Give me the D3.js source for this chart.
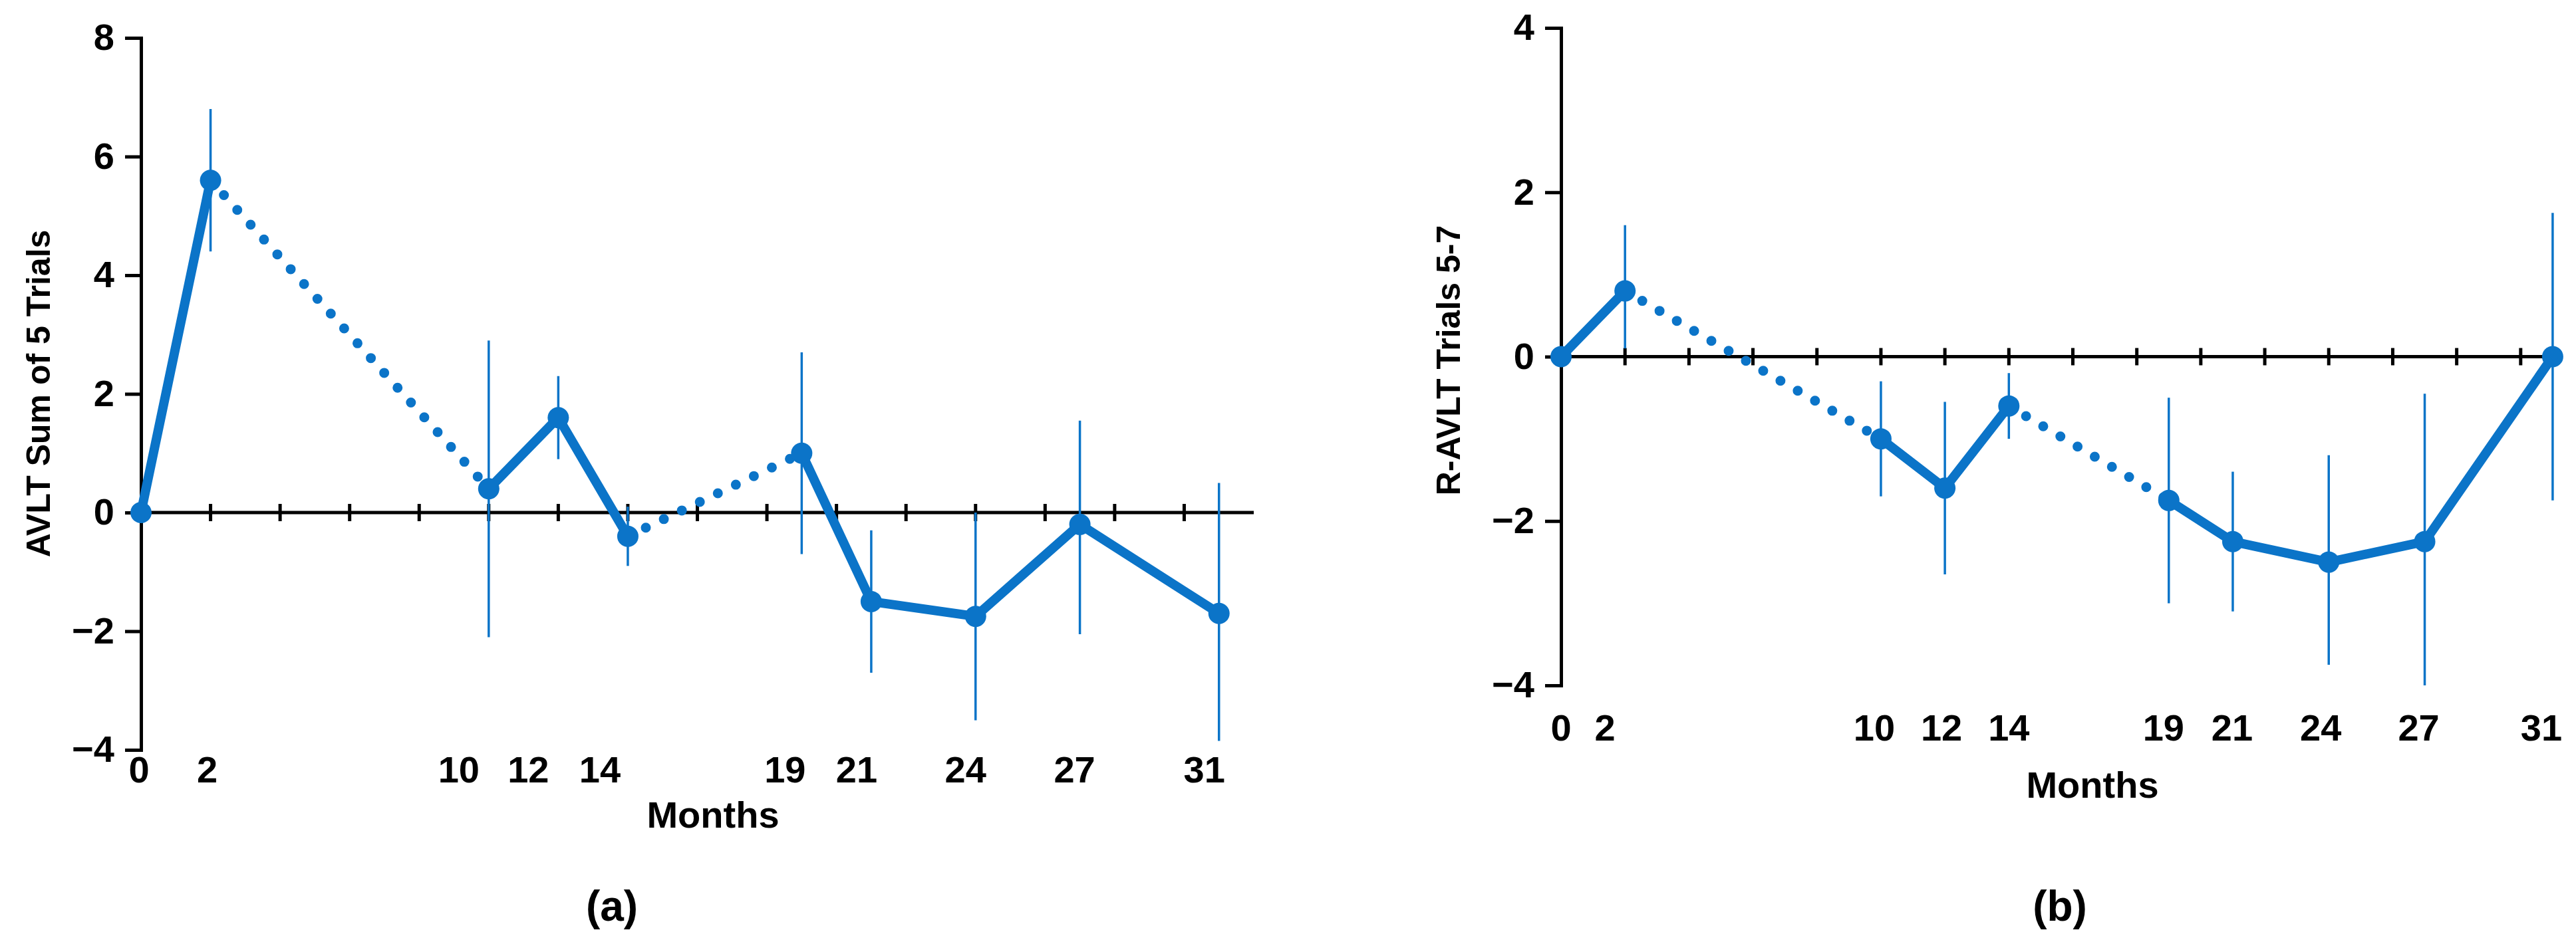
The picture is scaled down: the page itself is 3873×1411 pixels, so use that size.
<!DOCTYPE html>
<html>
<head>
<meta charset="utf-8">
<script src="https://cdn.jsdelivr.net/npm/d3@7"></script>
<style>
body{margin:0;background:#fff;}
text{font-family:"Liberation Sans Narrow","Liberation Sans",sans-serif;font-weight:bold;fill:#000;}
</style>
</head>
<body>
<div id="chart"></div>
<script>
// data
var months=[0,2,10,12,14,19,21,24,27,31];
var avltMean=[0,5.6,0.4,1.6,-0.4,1.0,-1.5,-1.75,-0.2,-1.7];
var avltLow=[null,4.4,-2.1,0.9,-0.9,-0.7,-2.7,-3.5,-2.05,-3.85];
var avltHigh=[null,6.8,2.9,2.3,0.1,2.7,-0.3,0,1.55,0.5];
var ravltMean=[0,0.8,-1.0,-1.6,-0.6,-1.75,-2.25,-2.5,-2.25,0];
var ravltLow=[null,0.1,-1.7,-2.65,-1.0,-3.0,-3.1,-3.75,-4.0,-1.75];
var ravltHigh=[null,1.6,-0.3,-0.55,-0.2,-0.5,-1.4,-1.2,-0.45,1.75];
var dottedFrom=[2,14];   // dotted segments start at these months
var avltTicks=[-4,-2,0,2,4,6,8];
var ravltTicks=[-4,-2,0,2,4];

var color="#0b74c8";
var svg=d3.select("#chart").append("svg").attr("width",3873).attr("height",1411);

function drawPanel(cfg){
    var x=d3.scaleLinear().domain([0,32]).range([cfg.x0,cfg.x1]);
    var y=d3.scaleLinear().domain(cfg.yDomain).range([cfg.yBottom,cfg.yTop]);
    var g=svg.append("g");

    // y axis
    var leftAxis=d3.axisLeft(y).tickValues(cfg.yTicks).tickSize(24).tickPadding(16).tickFormat(d3.format("d"));
    var ya=g.append("g").attr("transform",`translate(${x(0)},0)`).call(leftAxis);
    ya.select(".domain").attr("stroke","#000").attr("stroke-width",5);
    ya.selectAll(".tick line").attr("stroke","#000").attr("stroke-width",5);
    ya.selectAll(".tick text").attr("font-size",56).attr("font-family",null);

    // zero line with crossing ticks
    var xTickVals=d3.range(2,cfg.xEnd,2);
    g.append("line").attr("x1",x(0)).attr("x2",x(cfg.xEnd)).attr("y1",y(0)).attr("y2",y(0))
        .attr("stroke","#000").attr("stroke-width",5);
    g.selectAll(".zt").data(xTickVals).enter().append("line")
        .attr("x1",d=>x(d)).attr("x2",d=>x(d)).attr("y1",y(0)-13).attr("y2",y(0)+13)
        .attr("stroke","#000").attr("stroke-width",5);

    // month labels
    g.selectAll(".ml").data(months).enter().append("text")
        .attr("x",(d,i)=>x(d)+cfg.labelShift[i]).attr("y",cfg.labelY)
        .attr("text-anchor","middle").attr("font-size",56).text(d=>d);
    g.append("text").attr("x",cfg.monthsX).attr("y",cfg.monthsY).attr("text-anchor","middle")
        .attr("font-size",56).text("Months");
    g.append("text").attr("transform",`translate(${cfg.titleX},${cfg.titleY}) rotate(-90)`)
        .attr("text-anchor","middle").attr("font-size",50)
        .attr("font-family","'Liberation Sans',sans-serif").text(cfg.title);
    var cap=g.append("text").attr("x",cfg.capX).attr("y",1385).attr("text-anchor","middle")
        .attr("font-size",64).attr("font-weight","normal").attr("font-family","'Liberation Serif',serif");
    cap.append("tspan").text("(");
    cap.append("tspan").attr("font-weight","bold").text(cfg.cap);
    cap.append("tspan").text(")");

    // error bars
    g.selectAll(".eb").data(months.map((m,i)=>({m:m,lo:cfg.low[i],hi:cfg.high[i]})).filter(d=>d.lo!==null))
        .enter().append("line")
        .attr("x1",d=>x(d.m)).attr("x2",d=>x(d.m)).attr("y1",d=>y(d.lo)).attr("y2",d=>y(d.hi))
        .attr("stroke",color).attr("stroke-width",3.5);

    // line segments
    var segs=[];
    for(var i=0;i<months.length-1;i++){
        segs.push({a:[months[i],cfg.mean[i]],b:[months[i+1],cfg.mean[i+1]],dot:dottedFrom.indexOf(months[i])>=0});
    }
    g.selectAll(".seg").data(segs).enter().append("line")
        .attr("x1",d=>x(d.a[0])).attr("y1",d=>y(d.a[1])).attr("x2",d=>x(d.b[0])).attr("y2",d=>y(d.b[1]))
        .attr("stroke",color).attr("stroke-width",d=>d.dot?15:14)
        .attr("stroke-linecap","round")
        .attr("stroke-dasharray",d=>d.dot?"0 30":null);

    // markers
    g.selectAll(".pt").data(months).enter().append("circle")
        .attr("cx",d=>x(d)).attr("cy",(d,i)=>y(cfg.mean[i])).attr("r",16).attr("fill",color);
}

drawPanel({x0:212,x1:1885,xEnd:32,yDomain:[-4,8],yTop:57,yBottom:1128,yTicks:avltTicks,
    mean:avltMean,low:avltLow,high:avltHigh,
    labelShift:[-3,-5,-45,-45,-42,-25,-22,-15,-8,-22],labelY:1177,
    monthsX:1072,monthsY:1245,title:"AVLT Sum of 5 Trials",titleX:75,titleY:592,capX:920,cap:"a"});

drawPanel({x0:2347,x1:3886,xEnd:31.3,yDomain:[-4,4],yTop:42,yBottom:1031,yTicks:ravltTicks,
    mean:ravltMean,low:ravltLow,high:ravltHigh,
    labelShift:[0,-30,-10,-5,0,-8,-1,-12,-9,-17],labelY:1114,
    monthsX:3146,monthsY:1200,title:"R-AVLT Trials 5-7",titleX:2195,titleY:542,capX:3097,cap:"b"});
</script>
</body>
</html>
